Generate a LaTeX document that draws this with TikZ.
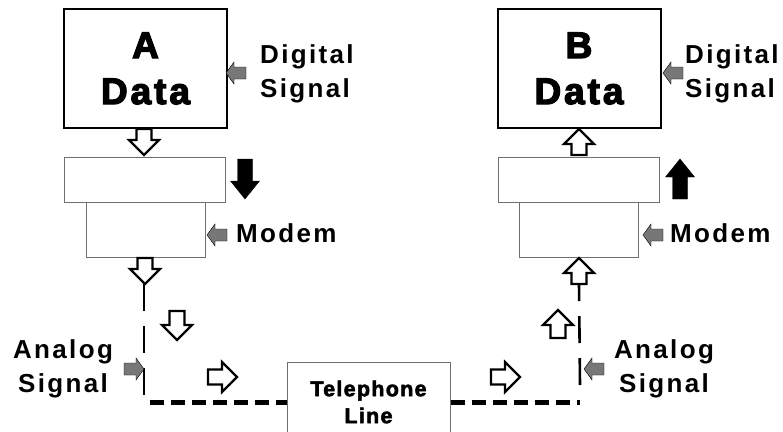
\documentclass[tikz,border=0pt]{standalone}
\usepackage{fontspec}
\usepackage{tikz}
\setmainfont{Liberation Sans}
\newfontfamily\lblfont{Liberation Sans}[LetterSpace=9]
\newfontfamily\datafont{Liberation Sans}[FakeBold=3.5,LetterSpace=8]
\newfontfamily\telfont{Liberation Sans}[FakeBold=2.5,LetterSpace=6]
\definecolor{arrowgray}{RGB}{119,119,119}
\definecolor{boxgray}{RGB}{110,110,110}
% block arrow: style, tail, direction, length, head length, shaft half width, head half width
\newcommand{\blockarrow}[7]{\draw[#1,shift={#2},rotate=#3] (0,-#6)--(#4-#5,-#6)--(#4-#5,-#7)--(#4,0)--(#4-#5,#7)--(#4-#5,#6)--(0,#6)--cycle;}
\newcommand{\hollowarrow}[3]{\blockarrow{hollow}{#1}{#2}{#3}{15}{7.5}{15}}
\newcommand{\blackarrow}[2]{\blockarrow{blackarr}{#1}{#2}{40}{18}{7.5}{14.5}}
\newcommand{\grayarrow}[2]{\blockarrow{grayarr}{#1}{#2}{20}{8}{6}{11}}
\tikzset{
  hollow/.style={draw=black, fill=white, line width=2.2pt, line join=miter},
  blackarr/.style={fill=black},
  grayarr/.style={fill=arrowgray},
  databox/.style={draw, line width=2pt, minimum width=163pt, minimum height=119pt, align=center, font={\datafont\bfseries\fontsize{37}{46}\selectfont}},
  modemtop/.style={draw=boxgray, line width=1pt, minimum width=161pt, minimum height=45pt},
  modembase/.style={draw=boxgray, line width=1pt, minimum width=119pt, minimum height=55pt},
  telbox/.style={draw=boxgray, line width=1pt, fill=white, minimum width=163pt, minimum height=80pt, align=center, font={\telfont\bfseries\fontsize{21.5}{27}\selectfont}},
  sigtext/.style={inner sep=0pt, font={\lblfont\bfseries\fontsize{26}{34}\selectfont}},
  sigline/.style={line width=2.6pt, dash pattern=on 27pt off 15pt},
  lineseg/.style={line width=5pt, dash pattern=on 14pt off 7pt}
}
\begin{document}
\begin{tikzpicture}[x=1pt,y=-1pt]
\useasboundingbox (0,0) rectangle (783,431);
\clip (0,0) rectangle (783,431);
% sender side
\node[databox] (dataA) at (145.5,68.5) {A\\Data};
\node[modembase] (baseA) at (145.5,229.5) {};
\node[modemtop] (modA) at (144.5,179.5) {};
% receiver side
\node[databox] (dataB) at (579,68.5) {B\\Data};
\node[modembase] (baseB) at (578.5,229.5) {};
\node[modemtop] (modB) at (579,179.5) {};
% telephone line
\node[telbox] (tel) at (368.5,402) {Telephone\\Line};
\coordinate (outA) at (144,284);
\coordinate (cornerA) at (144,402);
\coordinate (cornerB) at (580,402);
\coordinate (inB) at (579,284);
\draw[sigline] (outA) -- ([yshift=6pt]cornerA);
\draw[lineseg] ([xshift=6pt]cornerA) -- (tel.west);
\draw[lineseg] (tel.east) -- (cornerB);
\draw[sigline] ([yshift=17pt]cornerB) -- (inB);
% labels
\node[sigtext, anchor=north west, align=left] (digA) at (260,44) {Digital\\Signal};
\node[sigtext, anchor=north west, align=left] (digB) at (685,44) {Digital\\Signal};
\node[sigtext, anchor=base west] (modtxtA) at (236,242) {Modem};
\node[sigtext, anchor=base west] (modtxtB) at (670,242) {Modem};
\node[sigtext, anchor=north, align=center] (anaA) at (63,339) {Analog\\Signal};
\node[sigtext, anchor=north, align=center] (anaB) at (664,339) {Analog\\Signal};
% pointers
\grayarrow{(246,73)}{180}
\grayarrow{(227,235)}{180}
\grayarrow{(124,369)}{0}
\grayarrow{(683,73)}{180}
\grayarrow{(663,235)}{180}
\grayarrow{(604,369)}{180}
% flow arrows
\hollowarrow{(144,129)}{-90}{26}
\hollowarrow{(145,258)}{-90}{26}
\hollowarrow{(177,311)}{-90}{29}
\hollowarrow{(208,377)}{0}{29}
\hollowarrow{(491,377)}{0}{29}
\hollowarrow{(558,338)}{90}{28}
\hollowarrow{(579,284)}{90}{26}
\hollowarrow{(579,155)}{90}{26}
\blackarrow{(245,159)}{-90}
\blackarrow{(680,199)}{90}
\end{tikzpicture}
\end{document}
